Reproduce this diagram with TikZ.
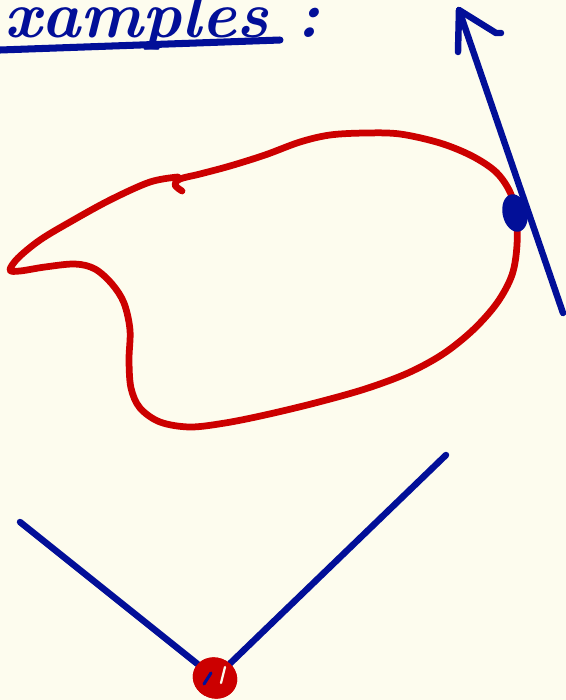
\documentclass[tikz,border=0pt]{standalone}
\usetikzlibrary{shapes.geometric}
\definecolor{paper}{RGB}{253,252,238}
\definecolor{ink}{RGB}{2,15,152}
\definecolor{redink}{RGB}{204,0,0}

\begin{document}
\begin{tikzpicture}[
    x=0.025cm, y=-0.025cm,
    pen/.style={draw=ink, line width=4.6pt, line cap=round, line join=round},
    curve/.style={draw=redink, line width=4.8pt, line cap=round, line join=round},
    touchdot/.style={ellipse, fill=ink, inner sep=0pt, minimum width=0.62cm, minimum height=0.95cm, rotate=12},
    vertex/.style={ellipse, fill=redink, inner sep=0pt, minimum width=1.12cm, minimum height=1.02cm, rotate=-20}
]
\fill[paper] (0,0) rectangle (566,700);
\useasboundingbox (0,0) rectangle (566,700);
\clip (0,0) rectangle (566,700);

% heading
\node[anchor=base west, text=ink, inner sep=0pt, font=\fontsize{47}{47}\selectfont\itshape\bfseries] (title) at (4,37) {xamples :};
\coordinate (ulA) at (0,50);
\coordinate (ulB) at (280,40);
\draw[pen, line width=5pt] (ulA) -- (ulB);

% closed curve
\draw[curve] plot[smooth, tension=0.55] coordinates {
  (182,191) (175,185) (180,179) (200,174) (230,166) (265,155) (300,142)
  (330,135) (365,133) (400,134) (440,143) (472,156) (496,172) (510,192)
  (516,215) (517,245) (512,275) (497,303) (473,330) (443,354) (408,373)
  (365,389) (315,403) (265,415) (225,423) (190,427) (160,422) (140,408)
  (131,388) (129,360) (130,330) (124,303) (112,284) (95,269) (75,264)
  (45,267) (20,271) (10,270) (18,258) (40,240) (70,222) (110,200)
  (150,182) (178,177)};

% tangent line with arrow
\coordinate (tanbot) at (563,313);
\coordinate (tantip) at (459,10);
\coordinate (barbL) at (458,52);
\coordinate (barbR) at (501,33);
\draw[pen] (tanbot) -- (tantip);
\draw[pen] (barbL) -- (tantip) -- (496,33) -- (barbR);
\node[touchdot] (touch) at (515,213) {};

% corner
\coordinate (vleft) at (20,522);
\coordinate (vright) at (446,455);
\node[vertex] (corner) at (215,678) {};
\draw[pen] (vleft) -- (corner);
\draw[pen] (vright) -- (corner);
\node[vertex] at (215,678) {};
\draw[pen, line width=2.2pt] (204,684) -- (211,673);
\draw[paper, line width=1.6pt, line cap=round] (225,667) -- (221,683);
\end{tikzpicture}
\end{document}
